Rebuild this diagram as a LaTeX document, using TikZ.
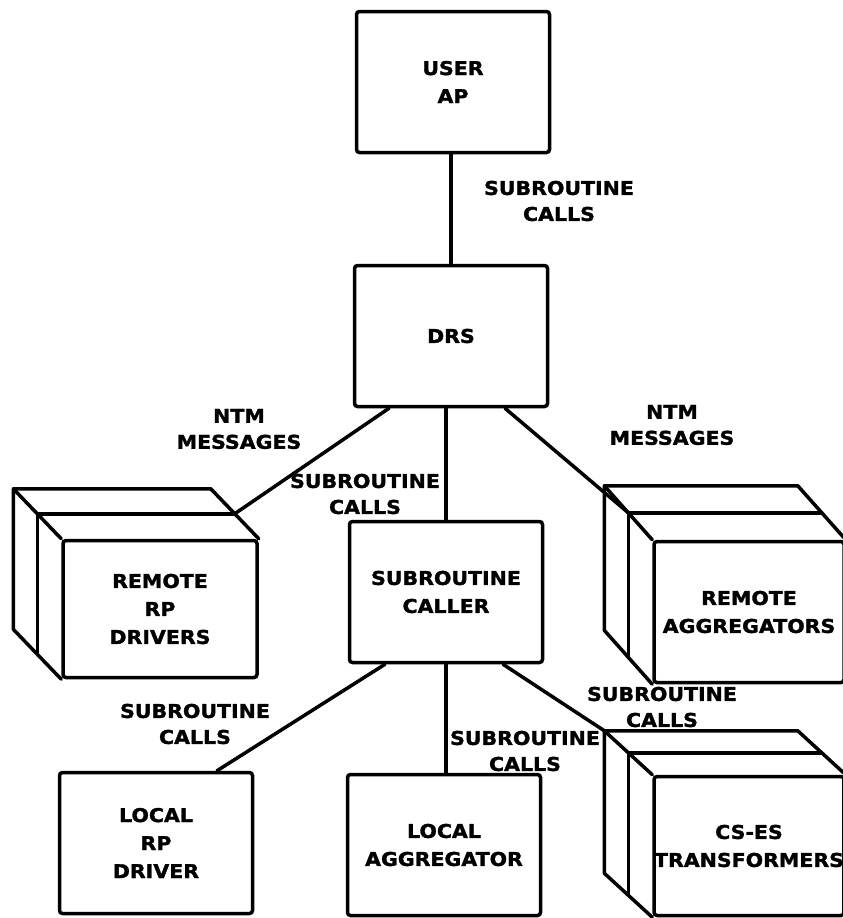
\documentclass[tikz,border=0pt]{standalone}
\usepackage{fontspec}
\setmainfont{DejaVu Sans}[FakeStretch=1.08, BoldFeatures={FakeBold=1.6}]
\usetikzlibrary{calc}

\begin{document}
\begin{tikzpicture}[
      x=1pt, y=-1pt,
      caja/.style={draw, line width=3.5pt, rounded corners=3pt, fill=white, align=center,
                   font=\bfseries\fontsize{19}{28}\selectfont,
                   minimum width=193pt, minimum height=141pt, inner sep=0pt},
      enlace/.style={line width=3.5pt, line join=round, line cap=round},
      etiqueta/.style={align=center, font=\bfseries\fontsize{19}{26}\selectfont, inner sep=0pt}
    ]
    \useasboundingbox (0,0) rectangle (843,918);

    \node[caja] (usr) at (453,82)  {USER\\ AP};
    \node[caja] (drs) at (451,336) {DRS};
    \node[caja] (cal) at (446,592) {SUBROUTINE\\ CALLER};
    \node[caja] (lrp) at (156,843) {LOCAL\\ RP\\ DRIVER};
    \node[caja] (lag) at (444,845) {LOCAL\\ AGGREGATOR};
    \node[caja, minimum width=194pt, minimum height=137pt] (rpd) at (160,609) {REMOTE\\ RP\\ DRIVERS};
    \node[caja, minimum width=190pt, minimum height=141pt] (rag) at (749,612) {REMOTE\\ AGGREGATORS};
    \node[caja, minimum width=186pt, minimum height=139pt] (cst) at (749,846) {CS-ES\\ TRANSFORMERS};

    % cajas apiladas (dos capas detras)
    \foreach \n/\dy in {rpd/-50,rag/-54,cst/-44}{
      \draw[enlace] (\n.south west) -- ++(-48,\dy) |- ($(\n.north east)+(-48,\dy)$) -- (\n.north east);
      \draw[enlace] (\n.north west) -- ++(-48,\dy);
      \draw[enlace] ($(\n.south west)+(-24,\dy/2)$) |- ($(\n.north east)+(-24,\dy/2)$);
    }

    \coordinate (rpdtop) at ($(rpd.north east)+(-24,-25)$);
    \coordinate (ragtop) at ($(rag.north west)+(-24,-27)$);
    \coordinate (csttop) at ($(cst.north west)+(-48,-44)$);

    \draw[enlace] (usr.south -| drs.north) -- (drs.north);
    \draw[enlace] (cal.north |- drs.south) -- (cal.north);
    \draw[enlace] ($(drs.south)+(-62,0)$) -- (rpdtop);
    \draw[enlace] ($(drs.south)+(54,0)$) -- (ragtop);
    \draw[enlace] ($(cal.south)+(-61,0)$) -- ($(lrp.north)+(61,0)$);
    \draw[enlace] (cal.south) -- (cal.south |- lag.north);
    \draw[enlace] ($(cal.south)+(57,0)$) -- (csttop);

    \node[etiqueta] (e1) at (559,201) {SUBROUTINE\\ CALLS};
    \node[etiqueta] (e2) at (239,429) {NTM\\ MESSAGES};
    \node[etiqueta] (e3) at (365,494) {SUBROUTINE\\ CALLS};
    \node[etiqueta] (e4) at (672,425) {NTM\\ MESSAGES};
    \node[etiqueta] (e5) at (195,724) {SUBROUTINE\\ CALLS};
    \node[etiqueta] (e6) at (525,751) {SUBROUTINE\\ CALLS};
    \node[etiqueta] (e7) at (662,707) {SUBROUTINE\\ CALLS};
  \end{tikzpicture}
\end{document}
